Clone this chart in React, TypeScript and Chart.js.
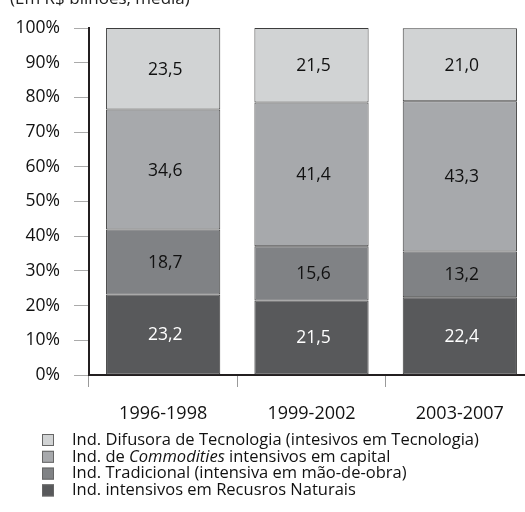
import React, { useEffect, useRef } from "react";
import { Chart, registerables } from "chart.js";

Chart.register(...registerables);

const categories = ["1996-1998", "1999-2002", "2003-2007"];
const recursosNaturais = [23.2, 21.5, 22.4];
const tradicional = [18.7, 15.6, 13.2];
const commodities = [34.6, 41.4, 43.3];
const difusora = [23.5, 21.5, 21.0];
const yTicks = [0, 10, 20, 30, 40, 50, 60, 70, 80, 90, 100];
const subtitle = "(Em R$ bilhões, média)";
// legend rows, top to bottom; *text* is italic
const legendLabels = [
  "Ind. Difusora de Tecnologia (intesivos em Tecnologia)",
  "Ind. de *Commodities* intensivos em capital",
  "Ind. Tradicional (intensiva em mão-de-obra)",
  "Ind. intensivos em Recusros Naturais",
];
const seriesColors = ["#58595b", "#808285", "#a7a9ac", "#d1d3d4"];
const legendColors = ["#d1d3d4", "#a7a9ac", "#808285", "#58595b"];

const FONT = "'Open Sans', 'Noto Sans', sans-serif";
const W = "500";

const fmt = (v: number) => v.toFixed(1).replace(".", ",");

const labelsPlugin = {
  id: "segLabels",
  afterDatasetsDraw(chart: any) {
    const ctx = chart.ctx;
    ctx.save();
    ctx.font = `${W} 17.5px ${FONT}`;
    ctx.textAlign = "center";
    ctx.textBaseline = "middle";
    chart.data.datasets.forEach((ds: any, di: number) => {
      const meta = chart.getDatasetMeta(di);
      meta.data.forEach((bar: any, i: number) => {
        const v = ds.data[i];
        const cy = (bar.y + bar.base) / 2;
        ctx.fillStyle = di === 0 ? "#ffffff" : "#111111";
        ctx.fillText(fmt(v), bar.x + 2, cy + 1);
      });
    });
    ctx.restore();
  },
};

const extrasPlugin = {
  id: "extras",
  afterDraw(chart: any) {
    const ctx = chart.ctx;
    ctx.save();
    // subtitle (cut at top)
    ctx.font = `${W} 17px ${FONT}`;
    ctx.fillStyle = "#222";
    ctx.textAlign = "left";
    ctx.textBaseline = "alphabetic";
    ctx.fillText(subtitle, 10, 4);
    // legend
    const x0 = 42;
    const size = 12;
    const textX = 72;
    legendLabels.forEach((lab, i) => {
      const cy = 440 + i * 16.8;
      ctx.fillStyle = legendColors[i];
      ctx.fillRect(x0, cy - size / 2, size, size);
      ctx.strokeStyle = "#666";
      ctx.lineWidth = 1;
      ctx.strokeRect(x0 + 0.5, cy - size / 2 + 0.5, size - 1, size - 1);
      ctx.fillStyle = "#111";
      ctx.textBaseline = "middle";
      let x = textX;
      lab.split("*").forEach((part, pi) => {
        ctx.font = `${pi % 2 === 1 ? "italic " : ""}${W} 16.5px ${FONT}`;
        ctx.fillText(part, x, cy);
        x += ctx.measureText(part).width;
      });
    });
    ctx.restore();
  },
};

export default function App() {
  const ref = useRef<HTMLCanvasElement>(null);
  useEffect(() => {
    if (!ref.current) return;
    const mk = (label: string, data: number[], color: string) => ({
      label,
      data,
      backgroundColor: color,
      borderColor: "#3c3c3c",
      borderWidth: 1,
      borderSkipped: false,
      categoryPercentage: 1,
      barPercentage: 0.77,
    });
    const chart = new Chart(ref.current, {
      type: "bar",
      data: {
        labels: categories,
        datasets: [
          mk(legendLabels[3], recursosNaturais, seriesColors[0]),
          mk(legendLabels[2], tradicional, seriesColors[1]),
          mk(legendLabels[1], commodities, seriesColors[2]),
          mk(legendLabels[0], difusora, seriesColors[3]),
        ] as any,
      },
      options: {
        responsive: false,
        animation: false,
        devicePixelRatio: 1,
        layout: { padding: { top: 28, right: 11, left: 0, bottom: 0 } },
        plugins: { legend: { display: false }, tooltip: { enabled: false } },
        scales: {
          x: {
            stacked: true,
            grid: {
              display: true,
              drawOnChartArea: false,
              drawTicks: true,
              tickLength: 12,
              color: "#9a9a9a",
              offset: true,
            },
            border: { display: true, color: "#231f20", width: 2 },
            ticks: { font: { family: FONT, size: 18, weight: W }, color: "#111", padding: 16 },
            afterFit: (s: any) => {
              s.height = 137;
            },
          },
          y: {
            stacked: true,
            min: 0,
            max: 100,
            afterBuildTicks: (s: any) => {
              s.ticks = yTicks.map((v) => ({ value: v }));
            },
            ticks: {
              callback: (v: any) => `${v}%`,
              font: { family: FONT, size: 17.5, weight: W },
              color: "#111",
              padding: 14,
            },
            grid: {
              display: true,
              drawOnChartArea: false,
              tickLength: 15,
              color: "#aaaaaa",
            },
            border: { display: true, color: "#231f20", width: 2 },
            afterFit: (s: any) => {
              s.width = 89;
            },
          },
        },
      },
      plugins: [labelsPlugin, extrasPlugin],
    });
    return () => chart.destroy();
  }, []);
  return (
    <div
      style={{
        position: "fixed",
        left: 0,
        top: 0,
        width: 525,
        height: 512,
        overflow: "hidden",
        background: "#fff",
      }}
    >
      <canvas ref={ref} width={545} height={512} style={{ display: "block" }} />
    </div>
  );
}
